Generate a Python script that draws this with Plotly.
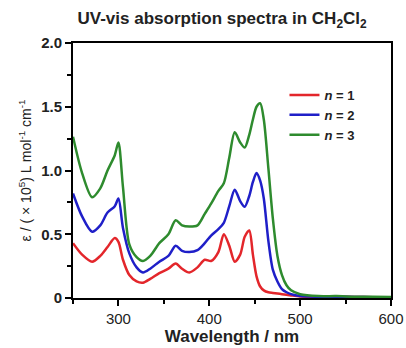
import plotly.graph_objects as go

wavelength = [250, 260, 271, 280, 288, 296, 300, 305, 312, 320, 327, 335, 345, 355, 363, 370, 378,
              387, 395, 402, 410, 416, 422, 428, 434, 439, 444, 448, 452, 456, 460, 465, 470, 475,
              480, 485, 490, 500, 520, 540, 560, 580, 600]

eps_n1 = [0.43, 0.34, 0.285, 0.33, 0.40, 0.47, 0.44, 0.30, 0.18, 0.13, 0.12, 0.15, 0.195, 0.23, 0.27,
          0.23, 0.20, 0.24, 0.30, 0.29, 0.36, 0.50, 0.41, 0.285, 0.34, 0.48, 0.53, 0.34, 0.17, 0.09,
          0.06, 0.045, 0.04, 0.035, 0.03, 0.025, 0.02, 0.012, 0.01, 0.01, 0.008, 0.006, 0.005]

eps_n2 = [0.82, 0.64, 0.52, 0.57, 0.67, 0.72, 0.78, 0.55, 0.35, 0.24, 0.20, 0.23, 0.285, 0.33, 0.41,
          0.37, 0.36, 0.375, 0.43, 0.49, 0.54, 0.59, 0.72, 0.85, 0.76, 0.716, 0.80, 0.91, 0.98, 0.92,
          0.78, 0.45, 0.22, 0.13, 0.07, 0.045, 0.03, 0.015, 0.01, 0.01, 0.008, 0.006, 0.005]

eps_n3 = [1.265, 0.98, 0.79, 0.86, 1.0, 1.12, 1.22, 0.87, 0.42, 0.32, 0.29, 0.33, 0.43, 0.50, 0.61,
          0.57, 0.56, 0.57, 0.66, 0.74, 0.84, 0.90, 1.10, 1.30, 1.22, 1.18, 1.28, 1.40, 1.50, 1.527,
          1.40, 1.02, 0.62, 0.33, 0.18, 0.10, 0.06, 0.03, 0.015, 0.015, 0.01, 0.01, 0.008]

series_names = ["<b><i>n</i> = 1</b>", "<b><i>n</i> = 2</b>", "<b><i>n</i> = 3</b>"]
series_colors = ["#e3262b", "#1f1fc8", "#2e8b2e"]
series_values = [eps_n1, eps_n2, eps_n3]

x_ticks = [300, 400, 500, 600]
x_minor = [250, 350, 450, 550]
y_ticks = [0, 0.5, 1.0, 1.5, 2.0]
y_ticklabels = ["0", "0.5", "1.0", "1.5", "2.0"]
y_minor = [0.25, 0.75, 1.25, 1.75]

FONT = "Liberation Sans, Arial, sans-serif"

fig = go.Figure()
for name, col, vals in zip(series_names, series_colors, series_values):
    fig.add_trace(go.Scatter(x=wavelength, y=vals, mode="lines", name=name,
                             line=dict(color=col, width=2.5, shape="spline", smoothing=0.8)))

axis_common = dict(showline=True, linecolor="black", linewidth=2, mirror=True,
                   ticks="outside", ticklen=6, tickwidth=2, tickcolor="black",
                   showgrid=False, zeroline=False, automargin=False,
                   tickfont=dict(family=FONT, size=15, color="#222"))

fig.update_xaxes(range=[250, 600], tickvals=x_ticks,
                 tickprefix="<b>", ticksuffix="</b>",
                 minor=dict(tickvals=x_minor, ticks="outside", ticklen=4, tickwidth=1.5, tickcolor="black"),
                 title=dict(text="<b>Wavelength / nm</b>", font=dict(family=FONT, size=17, color="#222"), standoff=4),
                 **axis_common)
fig.update_yaxes(range=[0, 2.0], tickvals=y_ticks, ticktext=["<b>%s</b>" % t for t in y_ticklabels],
                 minor=dict(tickvals=y_minor, ticks="outside", ticklen=4, tickwidth=1.5, tickcolor="black"),
                 title=dict(text="ε / ( × 10<sup>5</sup>) L mol<sup>-1</sup> cm<sup>-1</sup>",
                            font=dict(family=FONT, size=14, color="#222"), standoff=6),
                 **axis_common)

fig.update_layout(
    width=406, height=348,
    margin=dict(l=73, r=15, t=43, b=50, autoexpand=False),
    paper_bgcolor="white", plot_bgcolor="white",
    title=dict(text="<b>UV-vis absorption spectra in CH<sub>2</sub>Cl<sub>2</sub></b>",
               x=0.547, xanchor="center", y=0.948, yanchor="middle",
               font=dict(family=FONT, size=17, color="#222")),
    legend=dict(x=0.665, y=0.855, xanchor="left", yanchor="top", bgcolor="rgba(0,0,0,0)",
                font=dict(family=FONT, size=13, color="#222"), itemwidth=30, tracegroupgap=0),
    showlegend=True,
)

fig.write_html("out.html", config={"displayModeBar": False},
               post_script="document.body.style.margin='0';document.body.style.overflow='hidden';")
